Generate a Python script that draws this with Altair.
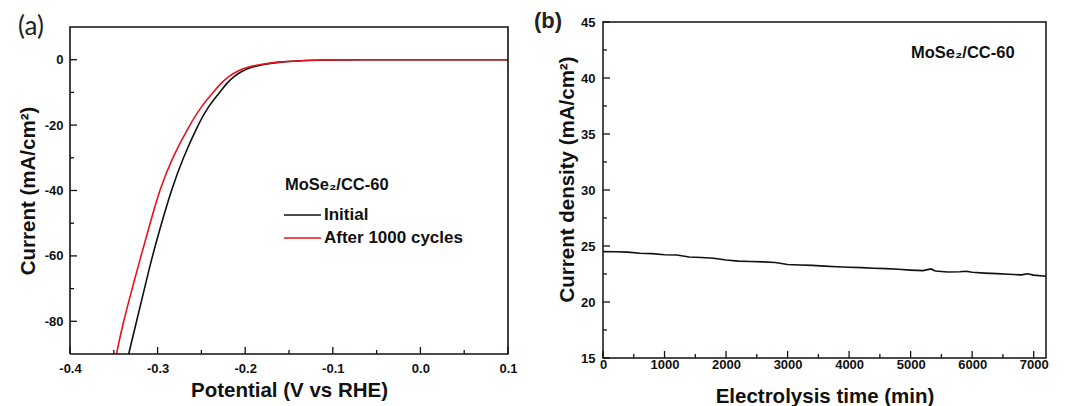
import altair as alt
import pandas as pd

# ---------------- Panel (a): polarization curves ----------------
potential_initial = [-0.333, -0.324, -0.315, -0.306, -0.2955, -0.2845, -0.271, -0.254, -0.243,
                     -0.229, -0.2205, -0.2125, -0.2035, -0.1935, -0.1775, -0.160, -0.140, -0.120,
                     -0.100, -0.07, 0.0, 0.05, 0.1]
current_initial = [-90, -80, -70, -60, -50, -40, -30, -20, -14.6,
                   -10, -7, -5, -3.5, -2.3, -1.3, -0.7, -0.35, -0.15,
                   -0.05, 0, 0, 0, 0]
potential_cycled = [-0.347, -0.339, -0.329, -0.319, -0.3085, -0.298, -0.2835, -0.2635, -0.251,
                    -0.2367, -0.227, -0.2185, -0.209, -0.198, -0.181, -0.163, -0.142, -0.121,
                    -0.101, -0.07, 0.0, 0.05, 0.1]
current_cycled = [-90, -80, -70, -60, -50, -40, -30, -20, -14.6,
                  -10, -7, -5, -3.5, -2.3, -1.3, -0.7, -0.35, -0.15,
                  -0.05, 0, 0, 0, 0]
series_names = ["Initial", "After 1000 cycles"]
series_colors = ["#111111", "#e8141c"]
sample_name = "MoSe\u2082/CC-60"
panel_labels = ["(a)", "(b)"]

x_domain_a = [-0.4, 0.1]
y_domain_a = [-90, 10]
x_major_a = [-0.4, -0.3, -0.2, -0.1, 0.0, 0.1]
x_minor_a = [-0.35, -0.25, -0.15, -0.05, 0.05]
y_major_a = [-80, -60, -40, -20, 0]
y_minor_a = [-70, -50, -30, -10]

# ---------------- Panel (b): chronoamperometry ----------------
time_min = [0, 200, 400, 600, 800, 1000, 1200, 1400, 1600, 1800, 2000, 2200, 2400, 2600,
            2800, 3000, 3200, 3400, 3600, 3800, 4000, 4200, 4400, 4600, 4800, 5000, 5200,
            5330, 5400, 5600, 5800, 5900, 6000, 6200, 6400, 6600, 6800, 6900, 7000, 7200]
current_density = [24.5, 24.48, 24.45, 24.35, 24.32, 24.22, 24.2, 24.02, 23.98, 23.9, 23.75,
                   23.65, 23.62, 23.58, 23.52, 23.35, 23.3, 23.27, 23.2, 23.15, 23.1, 23.07,
                   23.02, 22.98, 22.92, 22.85, 22.8, 22.95, 22.77, 22.68, 22.7, 22.74, 22.65,
                   22.58, 22.53, 22.48, 22.42, 22.52, 22.4, 22.3]
x_domain_b = [0, 7200]
y_domain_b = [15, 45]
x_major_b = [0, 1000, 2000, 3000, 4000, 5000, 6000, 7000]
x_minor_b = [500, 1500, 2500, 3500, 4500, 5500, 6500]
y_major_b = [15, 20, 25, 30, 35, 40, 45]
y_minor_b = [17.5, 22.5, 27.5, 32.5, 37.5, 42.5]

FONT = "Liberation Sans"
INK = "#111111"
MAJOR, MINOR = 7, 4
TOP_A = 5               # panel (a) frame starts 5px below its view top
WA, HA = 438, 332
WB, HB = 443, 336
LABEL_EXPR = "replace(datum.label, '\u2212', '-')"

AX = dict(grid=False, ticks=False, tickSize=0, domain=False, labelFlush=False,
          labelFont=FONT, labelFontWeight="bold", labelFontSize=13, labelColor=INK,
          titleFont=FONT, titleFontWeight="bold", titleFontSize=20.5, titleColor=INK)

# ---------- panel (a) ----------
df_a = pd.DataFrame({
    "V": potential_initial + potential_cycled,
    "I": current_initial + current_cycled,
    "series": [series_names[0]] * len(potential_initial) + [series_names[1]] * len(potential_cycled),
})
xs_a = alt.Scale(domain=x_domain_a, nice=False, zero=False)
ys_a = alt.Scale(domain=y_domain_a, nice=False, zero=False, range=[HA, TOP_A])
xa_axis = alt.Axis(values=x_major_a, format=".1f", labelExpr=LABEL_EXPR,
                   labelPadding=8, titlePadding=5, **AX)
ya_axis = alt.Axis(values=y_major_a, format="d", labelExpr=LABEL_EXPR,
                   labelPadding=7, titlePadding=6, **AX)
XA_TITLE = "Potential (V vs RHE)"
YA_TITLE = "Current (mA/cm\u00b2)"

lines_a = alt.Chart(df_a).mark_line(strokeWidth=1.6, interpolate="basis").encode(
    x=alt.X("V:Q", scale=xs_a, title=XA_TITLE, axis=xa_axis),
    y=alt.Y("I:Q", scale=ys_a, title=YA_TITLE, axis=ya_axis),
    color=alt.Color("series:N", sort=series_names,
                    scale=alt.Scale(domain=series_names, range=series_colors),
                    legend=alt.Legend(title=sample_name, orient="none", legendX=215, legendY=155,
                                      symbolType="M-2,0H2", symbolSize=342,
                                      symbolStrokeWidth=1.6, symbolOffset=7,
                                      labelFont=FONT, labelFontWeight="bold", labelFontSize=17,
                                      labelColor=INK, titleFont=FONT, titleFontWeight="bold",
                                      titleFontSize=16.5, titleColor=INK, titlePadding=11,
                                      labelOffset=11, rowPadding=4)),
)

# frame of panel (a): a closed polyline through the corners of the axis domains
frame_df = pd.DataFrame({
    "fx": [x_domain_a[0], x_domain_a[1], x_domain_a[1], x_domain_a[0], x_domain_a[0]],
    "fy": [y_domain_a[0], y_domain_a[0], y_domain_a[1], y_domain_a[1], y_domain_a[0]],
    "k": [0, 1, 2, 3, 4],
})
frame_a = alt.Chart(frame_df).mark_line(color=INK, strokeWidth=1.6, strokeJoin="miter").encode(
    x=alt.X("fx:Q", scale=xs_a, title=XA_TITLE, axis=xa_axis),
    y=alt.Y("fy:Q", scale=ys_a, title=YA_TITLE, axis=ya_axis),
    order=alt.Order("k:Q"),
)


def ticks_x(values, length, xs, h, title, axis):
    return alt.Chart(pd.DataFrame({"t": values})).mark_rule(color=INK, strokeWidth=1.3).encode(
        x=alt.X("t:Q", scale=xs, title=title, axis=axis), y=alt.value(h), y2=alt.value(h - length))


def ticks_y(values, length, ys, title, axis):
    return alt.Chart(pd.DataFrame({"t": values})).mark_rule(color=INK, strokeWidth=1.3).encode(
        y=alt.Y("t:Q", scale=ys, title=title, axis=axis), x=alt.value(0), x2=alt.value(length))


label_a = alt.Chart(pd.DataFrame({"t": [panel_labels[0]]})).mark_text(
    align="left", baseline="top", font="Lato", fontSize=26, color="#222222"
).encode(text="t:N", x=alt.value(-52), y=alt.value(-8))

panel_a = alt.layer(
    lines_a, frame_a,
    ticks_x(x_major_a, MAJOR, xs_a, HA, XA_TITLE, xa_axis),
    ticks_x(x_minor_a, MINOR, xs_a, HA, XA_TITLE, xa_axis),
    ticks_y(y_major_a, MAJOR, ys_a, YA_TITLE, ya_axis),
    ticks_y(y_minor_a, MINOR, ys_a, YA_TITLE, ya_axis),
    label_a,
).properties(width=WA, height=HA, view=alt.ViewBackground(stroke="transparent"))

# ---------- panel (b) ----------
df_b = pd.DataFrame({"t": time_min, "j": current_density})
xs_b = alt.Scale(domain=x_domain_b, nice=False, zero=False)
ys_b = alt.Scale(domain=y_domain_b, nice=False, zero=False)
xb_axis = alt.Axis(values=x_major_b, format="d", labelPadding=0, titlePadding=15, **AX)
yb_axis = alt.Axis(values=y_major_b, format="d", labelPadding=8, titlePadding=3, titleY=157, **AX)
XB_TITLE = "Electrolysis time (min)"
YB_TITLE = "Current density (mA/cm\u00b2)"

line_b = alt.Chart(df_b).mark_line(strokeWidth=1.6, color=INK, clip=True).encode(
    x=alt.X("t:Q", scale=xs_b, title=XB_TITLE, axis=xb_axis),
    y=alt.Y("j:Q", scale=ys_b, title=YB_TITLE, axis=yb_axis),
)
label_b = alt.Chart(pd.DataFrame({"t": [panel_labels[1]]})).mark_text(
    align="left", baseline="top", font=FONT, fontWeight="bold", fontSize=22, color="#222222"
).encode(text="t:N", x=alt.value(-69), y=alt.value(-11))
note_b = alt.Chart(pd.DataFrame({"t": [sample_name]})).mark_text(
    align="left", baseline="alphabetic", font=FONT, fontWeight="bold", fontSize=16.5, color=INK
).encode(text="t:N", x=alt.value(308), y=alt.value(36))

panel_b = alt.layer(
    line_b,
    ticks_x(x_major_b, MAJOR, xs_b, HB, XB_TITLE, xb_axis),
    ticks_x(x_minor_b, MINOR, xs_b, HB, XB_TITLE, xb_axis),
    ticks_y(y_major_b, MAJOR, ys_b, YB_TITLE, yb_axis),
    ticks_y(y_minor_b, MINOR, ys_b, YB_TITLE, yb_axis),
    label_b, note_b,
).properties(width=WB, height=HB, view=alt.ViewBackground(stroke=INK, strokeWidth=1.5))

chart = alt.hconcat(panel_a, panel_b, spacing=15).properties(
    padding={"left": 9, "top": 1, "right": 0, "bottom": 0},
    background="white",
).configure_view(stroke=INK, strokeWidth=1.5)

chart.save("out.html", embed_options={"renderer": "svg", "actions": False})
